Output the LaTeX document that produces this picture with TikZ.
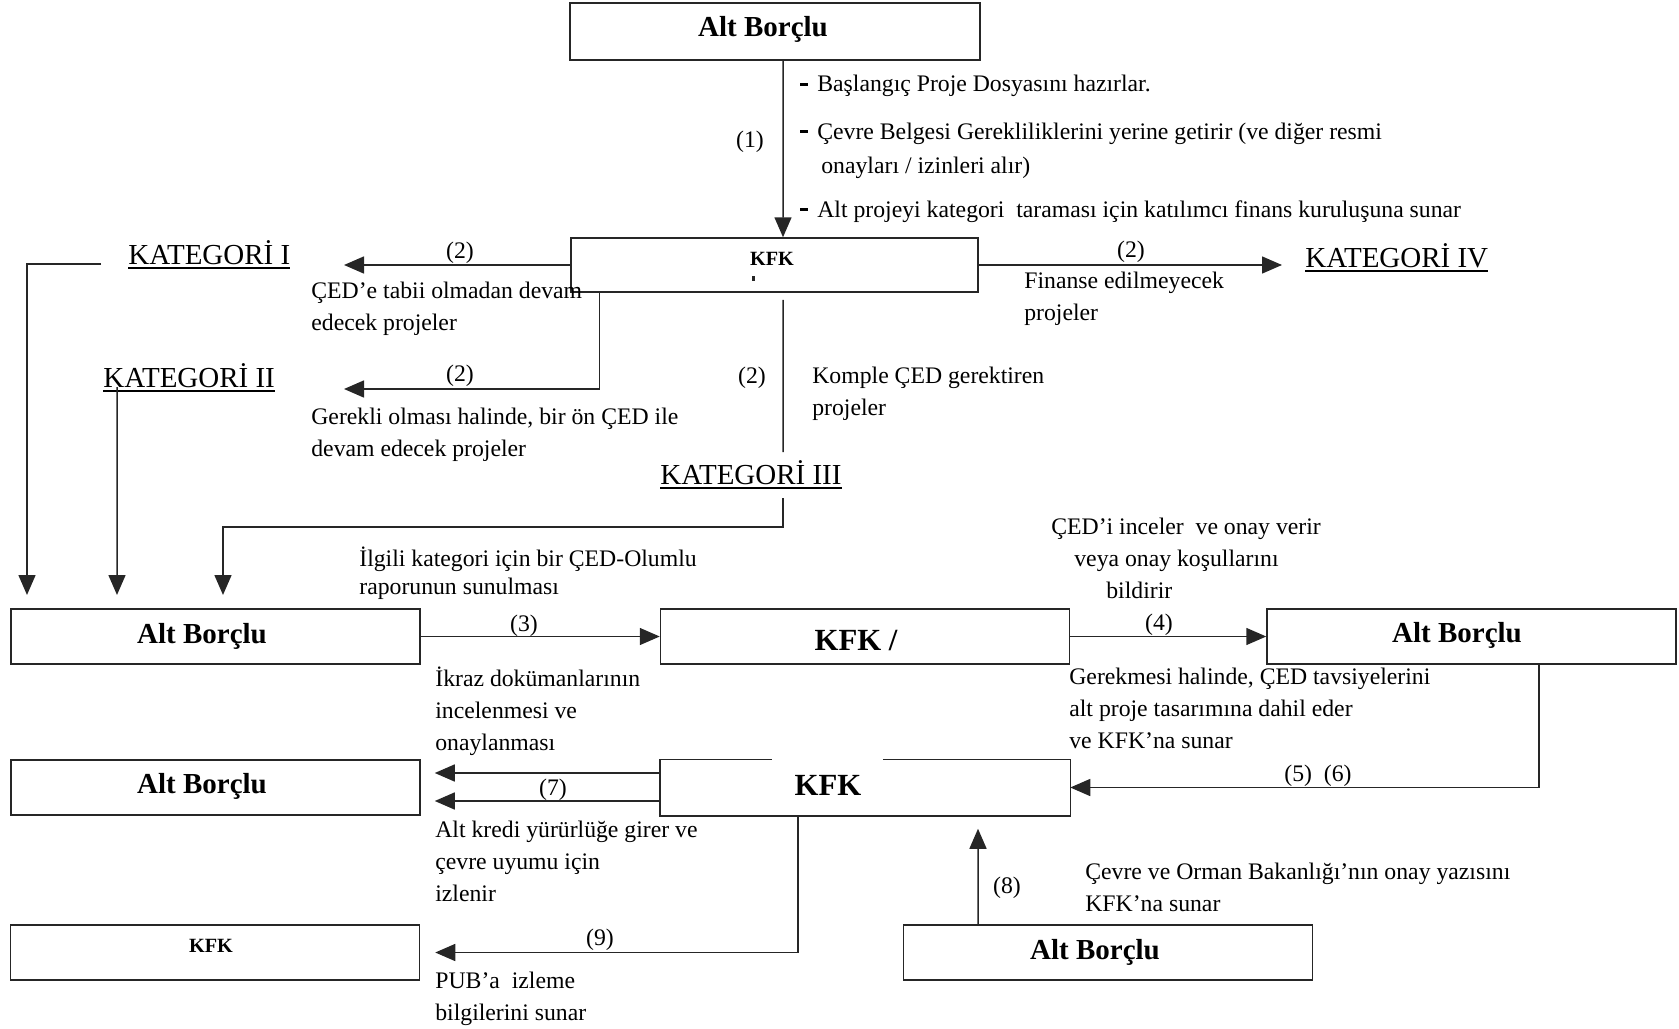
\documentclass[tikz,border=0pt]{standalone}
\usepackage{fontspec}
\setmainfont{Liberation Serif}
\usetikzlibrary{arrows.meta}
\newsavebox{\katkutu}
\newcommand{\cizili}[1]{\sbox{\katkutu}{#1}\rlap{\rule[-1mm]{\wd\katkutu}{0.45mm}}\usebox{\katkutu}}
\newcommand{\tire}{\rule[1.2mm]{1.6mm}{0.6mm}\hspace{1.8mm}}

\tikzset{
	kutu/.style={draw=black!85, line width=0.3mm, minimum width=81.8mm, minimum height=11mm, inner sep=0pt},
	baslik/.style={anchor=base, inner sep=0pt, font=\fontsize{16.5}{20}\selectfont\bfseries},
	kucuk/.style={font=\fontsize{11.5}{14}\selectfont\bfseries},
	buyuk/.style={font=\fontsize{17.5}{21}\selectfont\bfseries},
	yazi/.style={anchor=base west, align=left, inner sep=0pt, font=\fontsize{13.5}{18.2}\selectfont},
	no/.style={anchor=base, inner sep=0pt, font=\fontsize{13.5}{16}\selectfont},
	kat/.style={anchor=base west, inner sep=0pt, font=\fontsize{16.5}{20}\selectfont},
	cizgi/.style={draw=black!85, line width=0.3mm},
	ok/.style={cizgi, -{Triangle[length=4mm,width=3.4mm]}}
}

\begin{document}
\begin{tikzpicture}[x=0.2mm,y=-0.2mm]
	\useasboundingbox (0,0) rectangle (1679,1029);
	\node[kutu, minimum width=82mm, minimum height=11.4mm] (abTop) at (775,31.5) {};
	\node[kutu, minimum width=81.4mm, minimum height=10.8mm] (kfkA) at (774.5,265) {};
	\node[kutu] (ab2) at (215.5,636.5) {};
	\node[kutu] (kfkB) at (865,636.5) {};
	\node[kutu] (ab3) at (1471.5,636.5) {};
	\node[kutu] (ab4) at (215.5,787.5) {};
	\node[kutu, draw=none] (kfkC) at (865,787.5) {};
	\node[kutu] (kfkD) at (215,952.5) {};
	\node[kutu] (ab5) at (1108,952.5) {};
	\draw[cizgi] ([xshift=44.6mm]kfkC.north west) -- (kfkC.north east) -- (kfkC.south east) -- (kfkC.south west) -- (kfkC.north west) -- ([xshift=22.4mm]kfkC.north west);

	\node[baslik] (abTopT) at (763,37) {Alt Borçlu};
	\node[baslik, kucuk] (kfkAT) at (772,265) {KFK};
	\fill[black!85] (752,276) rectangle (754.5,281);
	\node[baslik] (ab2T) at (202,643) {Alt Borçlu};
	\node[baslik, buyuk] (kfkBT) at (856,650) {KFK /};
	\node[baslik] (ab3T) at (1457,642) {Alt Borçlu};
	\node[baslik] (ab4T) at (202,793) {Alt Borçlu};
	\node[baslik, buyuk] (kfkCT) at (828,795) {KFK};
	\node[baslik, kucuk] (kfkDT) at (211,952) {KFK};
	\node[baslik] (ab5T) at (1095,959) {Alt Borçlu};

	\node[kat] (katI) at (128,264) {\cizili{KATEGORİ I}};
	\node[kat] (katII) at (103,387) {\cizili{KATEGORİ II}};
	\node[kat] (katIII) at (660,484) {\cizili{KATEGORİ III}};
	\node[kat] (katIV) at (1305,267) {\cizili{KATEGORİ IV}};

	\node[yazi] (b1) at (800,92) {\tire Başlangıç Proje Dosyasını hazırlar.};
	\node[yazi] (b2) at (800,139) {\tire Çevre Belgesi Gerekliliklerini yerine getirir (ve diğer resmi};
	\node[yazi] (b3) at (821,174) {onayları / izinleri alır)};
	\node[yazi] (b4) at (800,217) {\tire Alt projeyi kategori\ \ taraması için katılımcı finans kuruluşuna sunar};

	\node[yazi] (t1) at (311,330) {ÇED’e tabii olmadan devam\\edecek projeler};
	\node[yazi] (t2) at (311,456) {Gerekli olması halinde, bir ön ÇED ile\\devam edecek projeler};
	\node[yazi] (t3) at (812,415) {Komple ÇED gerektiren\\projeler};
	\node[yazi] (t4) at (1024,320) {Finanse edilmeyecek\\projeler};
	\node[yazi, font=\fontsize{13.5}{15.4}\selectfont] (t5) at (359,594) {İlgili kategori için bir ÇED-Olumlu\\raporunun sunulması};
	\node[yazi] (t6) at (435,750) {İkraz dokümanlarının\\incelenmesi ve\\onaylanması};
	\node[yazi] (t7) at (1051,598) {ÇED’i inceler\ \ ve onay verir\\\hspace*{4.6mm}veya onay koşullarını\\\hspace*{11mm}bildirir};
	\node[yazi] (t8) at (1069,748) {Gerekmesi halinde, ÇED tavsiyelerini\\alt proje tasarımına dahil eder\\ve KFK’na sunar};
	\node[yazi] (t9) at (435,901) {Alt kredi yürürlüğe girer ve\\çevre uyumu için\\izlenir};
	\node[yazi] (t10) at (1085,911) {Çevre ve Orman Bakanlığı’nın onay yazısını\\KFK’na sunar};
	\node[yazi] (t11) at (435,1020) {PUB’a\ \ izleme\\bilgilerini sunar};

	\node[no] (n1) at (750,148) {(1)};
	\node[no] (n2a) at (460,258) {(2)};
	\node[no] (n2b) at (460,381) {(2)};
	\node[no] (n2c) at (752,383) {(2)};
	\node[no] (n2d) at (1131,257) {(2)};
	\node[no] (n3) at (524,631) {(3)};
	\node[no] (n4) at (1159,630) {(4)};
	\node[no] (n56) at (1318,781) {(5)\ \ (6)};
	\node[no] (n7) at (553,795) {(7)};
	\node[no] (n8) at (1007,893) {(8)};
	\node[no] (n9) at (600,945) {(9)};

	\coordinate (u2) at (344,265);
	\coordinate (u4) at (27,595);
	\coordinate (u5) at (344,389);
	\coordinate (u6) at (117,595);
	\coordinate (u7) at (783,452);
	\coordinate (u8) at (783,498);
	\coordinate (u9) at (223,527);
	\coordinate (u10) at (223,595);
	\coordinate (u11) at (1282,265);

	\draw[ok] ([xshift=1.6mm]abTop.south) -- ([xshift=1.7mm]kfkA.north);
	\draw[ok] (kfkA.west) -- (u2);
	\draw[ok] ([xshift=-5.4mm]katI.base west) -| (u4);
	\draw[ok] ([xshift=5.8mm]kfkA.south west) |- (u5);
	\draw[ok] ([xshift=2.8mm]katII.base west) -- (u6);
	\draw[cizgi] ([xshift=1.7mm,yshift=-1.4mm]kfkA.south) -- (u7);
	\draw[ok] (u8) |- (u9) -- (u10);
	\draw[ok] (kfkA.east) -- (u11);
	\draw[ok] (ab2.east) -- (kfkB.west);
	\draw[ok] (kfkB.east) -- (ab3.west);
	\draw[ok] ([xshift=13.5mm]ab3.south) |- (kfkC.east);
	\draw[ok] ([yshift=2.9mm]kfkC.west) -- ([xshift=2.8mm,yshift=2.9mm]ab4.east);
	\draw[ok] ([yshift=-2.7mm]kfkC.west) -- ([xshift=2.8mm,yshift=-2.7mm]ab4.east);
	\draw[ok] ([xshift=-26mm]ab5.north) -- ([xshift=22.6mm,yshift=-2.6mm]kfkC.south);
	\draw[ok] ([xshift=-13.4mm]kfkC.south) |- ([xshift=3mm]kfkD.east);
\end{tikzpicture}
\end{document}
